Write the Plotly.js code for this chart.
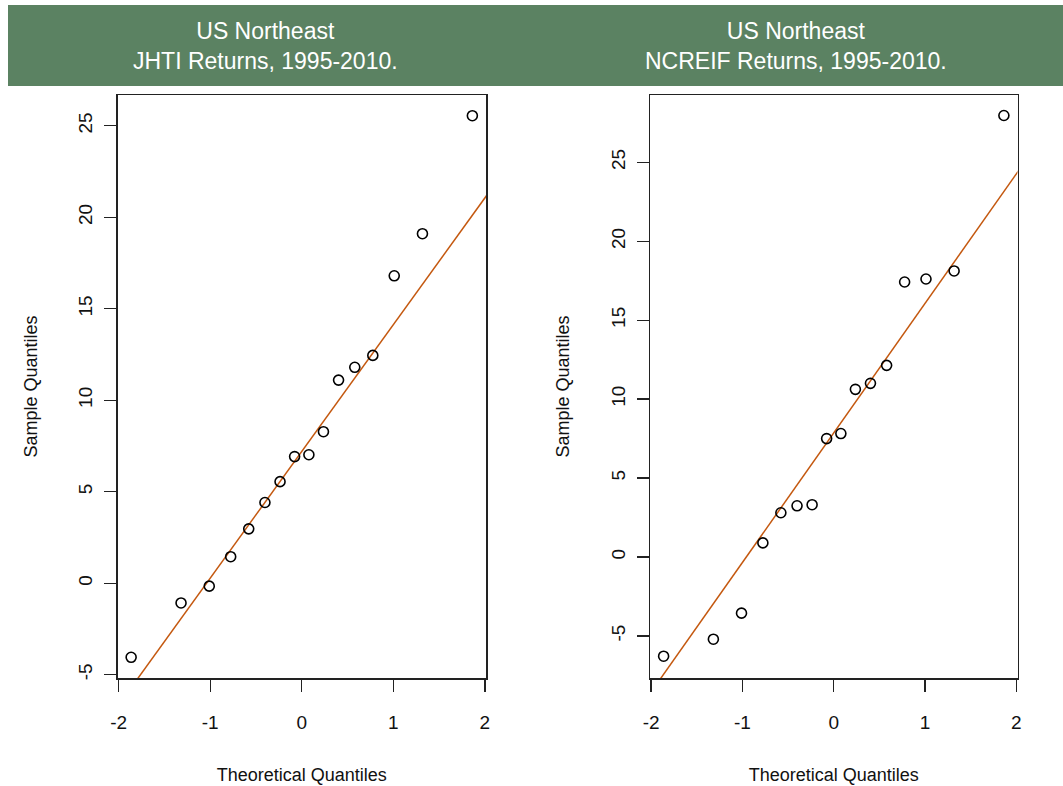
<!DOCTYPE html>
<html>
<head>
<meta charset="utf-8">
<script src="https://cdn.plot.ly/plotly-3.0.1.min.js"></script>
<style>
  html, body { margin: 0; padding: 0; background: #ffffff; }
  #chart { width: 1063px; height: 786px; }
</style>
</head>
<body>
<div id="chart"></div>
<script>
// Theoretical normal quantiles (n = 16)
const theoreticalQ = [-1.863, -1.318, -1.010, -0.776, -0.579, -0.402, -0.237, -0.078,
                       0.078, 0.237, 0.402, 0.579, 0.776, 1.010, 1.318, 1.863];
// Sample quantiles (sorted returns, %)
const jhtiReturns = [-4.05, -1.08, -0.16, 1.45, 2.97, 4.41, 5.55, 6.92,
                      7.02, 8.28, 11.1, 11.8, 12.45, 16.8, 19.1, 25.55];
const ncreifReturns = [-6.29, -5.21, -3.56, 0.89, 2.80, 3.24, 3.31, 7.50,
                        7.82, 10.62, 11.0, 12.14, 17.42, 17.61, 18.12, 27.97];
// Reference (qq) line endpoints
const jhtiLineX = [-2.1, 2.1];
const jhtiLineY = [-7.35, 21.75];
const ncreifLineX = [-2.1, 2.1];
const ncreifLineY = [-9.38, 25.10];
// Titles and tick labels
const panelTitles = ["US Northeast<br>JHTI Returns, 1995-2010.", "US Northeast<br>NCREIF Returns, 1995-2010."];
const xTickVals = [-2, -1, 0, 1, 2];
const yTickVals = [-5, 0, 5, 10, 15, 20, 25];

const FONT = '"Liberation Sans Narrow", "Arial Narrow", "Liberation Sans", Arial, sans-serif';
const W = 1063, H = 786;
const lineColor = '#c4580f';

const traces = [
  {x: jhtiLineX, y: jhtiLineY, xaxis: 'x', yaxis: 'y', mode: 'lines',
   line: {color: lineColor, width: 1.5}, hoverinfo: 'skip', showlegend: false},
  {x: theoreticalQ, y: jhtiReturns, xaxis: 'x', yaxis: 'y', mode: 'markers', type: 'scatter',
   marker: {symbol: 'circle-open', size: 10, color: '#000', line: {width: 1.6, color: '#000'}}, showlegend: false},
  {x: ncreifLineX, y: ncreifLineY, xaxis: 'x2', yaxis: 'y2', mode: 'lines',
   line: {color: lineColor, width: 1.5}, hoverinfo: 'skip', showlegend: false},
  {x: theoreticalQ, y: ncreifReturns, xaxis: 'x2', yaxis: 'y2', mode: 'markers', type: 'scatter',
   marker: {symbol: 'circle-open', size: 10, color: '#000', line: {width: 1.6, color: '#000'}}, showlegend: false}
];

function xAxis(domain, anchor) {
  return {
    domain: domain, anchor: anchor, range: [-2.012, 2.012],
    tickvals: xTickVals, ticktext: xTickVals.map(String),
    ticks: 'outside', ticklen: 12, tickwidth: 1.3, tickcolor: '#222',
    showline: true, mirror: true, linecolor: '#222', linewidth: 1.5,
    showgrid: false, zeroline: false, ticklabelstandoff: 15,
    tickfont: {family: FONT, size: 19, color: '#111'},
    title: {text: 'Theoretical Quantiles', font: {family: FONT, size: 18, color: '#111'}, standoff: 36},
    automargin: false, fixedrange: true
  };
}
function yAxis(domain, anchor, range) {
  return {
    domain: domain, anchor: anchor, range: range,
    tickvals: yTickVals, ticktext: yTickVals.map(String), tickangle: -90,
    ticks: 'outside', ticklen: 12, tickwidth: 1.3, tickcolor: '#222',
    showline: true, mirror: true, linecolor: '#222', linewidth: 1.5,
    showgrid: false, zeroline: false, ticklabelstandoff: 4,
    tickfont: {family: FONT, size: 19, color: '#111'},
    title: {text: 'Sample Quantiles', font: {family: FONT, size: 18, color: '#111'}, standoff: 33},
    automargin: false, fixedrange: true
  };
}

const yDom = [1 - 678 / H, 1 - 95 / H];
const layout = {
  width: W, height: H,
  margin: {l: 0, r: 0, t: 0, b: 0},
  paper_bgcolor: '#ffffff', plot_bgcolor: '#ffffff',
  font: {family: FONT, color: '#111'},
  showlegend: false,
  xaxis: xAxis([117.5 / W, 486 / W], 'y'),
  yaxis: yAxis(yDom, 'x', [-5.18, 26.68]),
  xaxis2: xAxis([650 / W, 1017.5 / W], 'y2'),
  yaxis2: yAxis(yDom, 'x2', [-7.67, 29.27]),
  shapes: [
    {type: 'rect', xref: 'paper', yref: 'paper', x0: 8 / W, x1: 1, y0: 1 - 86 / H, y1: 1 - 5 / H,
     fillcolor: '#5b8262', line: {width: 0}, layer: 'below'}
  ],
  annotations: [
    {text: panelTitles[0], xref: 'paper', yref: 'paper', x: 265.5 / W, y: 1 - 46 / H,
     xanchor: 'center', yanchor: 'middle', showarrow: false, align: 'center',
     font: {family: FONT, size: 23, color: '#ffffff'}},
    {text: panelTitles[1], xref: 'paper', yref: 'paper', x: 796 / W, y: 1 - 46 / H,
     xanchor: 'center', yanchor: 'middle', showarrow: false, align: 'center',
     font: {family: FONT, size: 23, color: '#ffffff'}}
  ]
};

Plotly.newPlot('chart', traces, layout, {displayModeBar: false, staticPlot: true});
</script>
</body>
</html>
